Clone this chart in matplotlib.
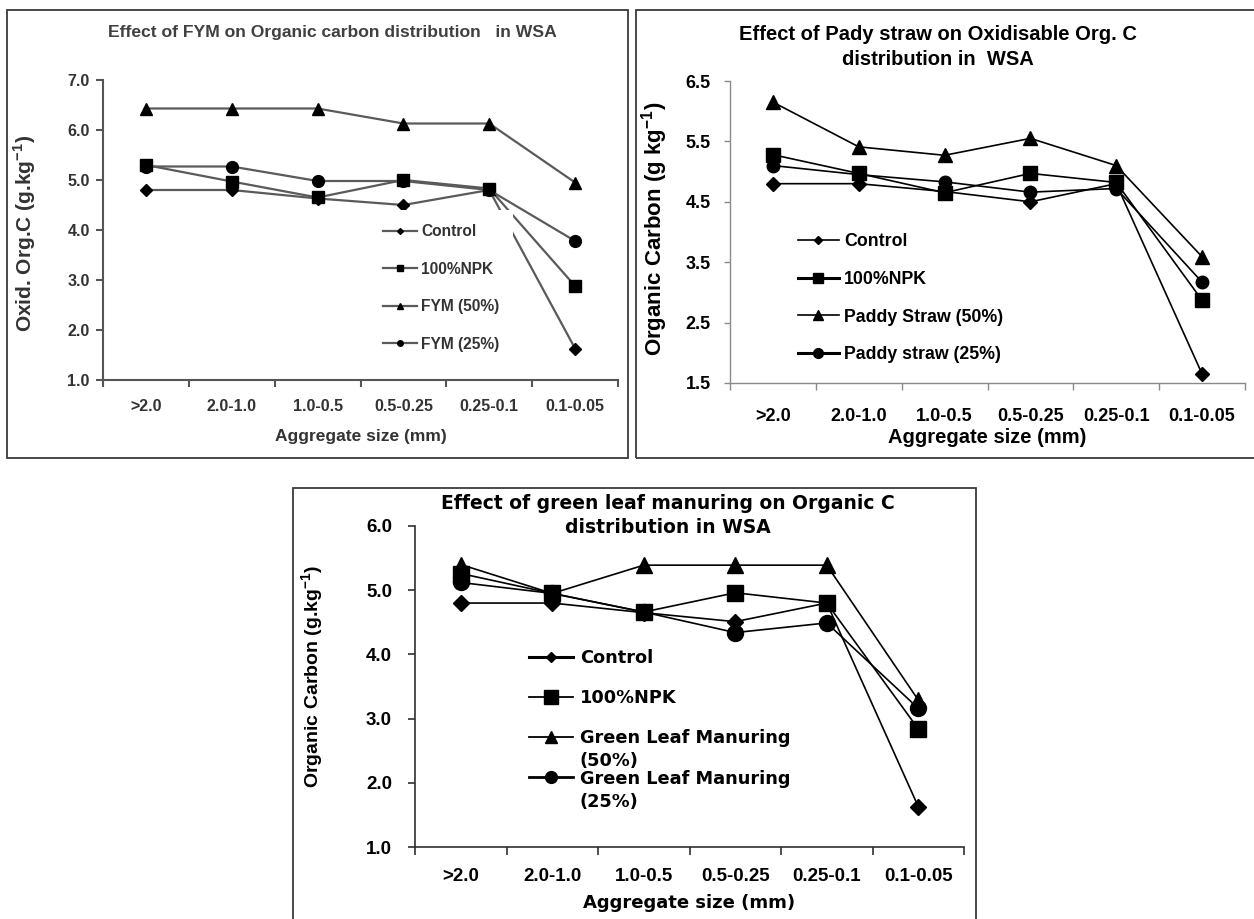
import numpy as np
import matplotlib
matplotlib.use("Agg")
import matplotlib.pyplot as plt
from matplotlib.lines import Line2D
from matplotlib.patches import Rectangle

plt.rcParams['mathtext.fontset'] = 'custom'
plt.rcParams['mathtext.rm'] = 'Liberation Sans'
plt.rcParams['mathtext.bf'] = 'Liberation Sans:bold'

# ---------------------------------------------------------------- data
sizes = ['>2.0', '2.0-1.0', '1.0-0.5', '0.5-0.25', '0.25-0.1', '0.1-0.05']

# FYM
fym_labels = ['Control', '100%NPK', 'FYM (50%)', 'FYM (25%)']
fym_control = [4.80, 4.80, 4.63, 4.50, 4.80, 1.63]
fym_npk = [5.30, 4.97, 4.65, 5.00, 4.83, 2.88]
fym_50 = [6.43, 6.43, 6.43, 6.13, 6.13, 4.95]
fym_25 = [5.27, 5.27, 4.98, 4.98, 4.80, 3.78]

# Paddy straw
pad_labels = ['Control', '100%NPK', 'Paddy Straw (50%)', 'Paddy straw (25%)']
pad_control = [4.80, 4.80, 4.67, 4.50, 4.80, 1.65]
pad_npk = [5.28, 4.97, 4.65, 4.97, 4.82, 2.87]
pad_50 = [6.15, 5.41, 5.27, 5.55, 5.10, 3.59]
pad_25 = [5.10, 4.95, 4.83, 4.66, 4.72, 3.17]

# Green leaf manuring
glm_labels = ['Control', '100%NPK', 'Green Leaf Manuring', 'Green Leaf Manuring']
glm_label_tails = ['(50%)', '(25%)']
glm_control = [4.80, 4.80, 4.65, 4.51, 4.80, 1.63]
glm_npk = [5.26, 4.95, 4.66, 4.96, 4.80, 2.84]
glm_50 = [5.40, 4.95, 5.39, 5.39, 5.39, 3.29]
glm_25 = [5.12, 4.95, 4.66, 4.34, 4.49, 3.16]

markers = ['D', 's', '^', 'o']

# ---------------------------------------------------------------- figure
W, H, DPI = 1254, 919, 100
fig = plt.figure(figsize=(W / DPI, H / DPI), dpi=DPI)
fig.patch.set_facecolor('white')

ARIAL = ['Liberation Sans', 'DejaVu Sans']
WIDE = ['DejaVu Sans']


def fx(px):
    return px / W


def fy(py):
    return 1 - py / H


def add_axes_px(x0, x1, ytop, ybot):
    return fig.add_axes([fx(x0), fy(ybot), (x1 - x0) / W, (ybot - ytop) / H])


def frame_px(x0, x1, ytop, ybot, color='#3a3a3a', lw=1.3):
    fig.add_artist(Rectangle((fx(x0), fy(ybot)), (x1 - x0) / W, (ybot - ytop) / H,
                             transform=fig.transFigure, fill=False,
                             edgecolor=color, linewidth=lw))


def setup_axes(ax, ylim, yticks, spine_color, spine_lw, tick_font, tick_size,
               tick_color, xpad, ypad, xtick_len, ytick_len):
    n = len(sizes)
    x = np.arange(n)
    ax.set_xlim(-0.5, n - 0.5)
    ax.set_ylim(*ylim)
    for s in ('top', 'right'):
        ax.spines[s].set_visible(False)
    for s in ('left', 'bottom'):
        ax.spines[s].set_color(spine_color)
        ax.spines[s].set_linewidth(spine_lw)
    ax.set_xticks(np.arange(n + 1) - 0.5)
    ax.set_xticklabels([])
    ax.set_xticks(x, minor=True)
    ax.set_xticklabels(sizes, minor=True)
    ax.tick_params(axis='x', which='major', direction='out', length=xtick_len,
                   width=spine_lw, color=spine_color)
    ax.tick_params(axis='x', which='minor', length=0, pad=xpad)
    ax.set_yticks(yticks)
    ax.set_yticklabels(['%.1f' % v for v in yticks])
    ax.tick_params(axis='y', direction='out', length=ytick_len, width=spine_lw,
                   color=spine_color, pad=ypad)
    for lab in ax.get_xticklabels(minor=True) + ax.get_yticklabels():
        lab.set_family(tick_font)
        lab.set_fontweight('bold')
        lab.set_fontsize(tick_size)
        lab.set_color(tick_color)
    ax.set_facecolor('none')
    return x


# ================================================================ panel 1
frame_px(7, 628, 10, 458)
ax1 = add_axes_px(103, 618, 80, 380)
x = setup_axes(ax1, (1.0, 7.0), np.arange(1.0, 7.01, 1.0), '#555555', 1.5,
               ARIAL, 11.5, '#333333', 14, 4.5, 5, 5)
line_c1 = '#5a5a5a'
fym_series = [fym_control, fym_npk, fym_50, fym_25]
fym_ms = [6.0, 8.5, 9.0, 8.5]
for vals, m, ms in zip(fym_series, markers, fym_ms):
    ax1.plot(x, vals, color=line_c1, lw=1.6, marker=m, ms=ms,
             mfc='black', mec='black', zorder=3)
h1 = [Line2D([], [], color=line_c1, lw=1.6, marker=m, ms=s, mfc='black', mec='black')
      for m, s in zip(markers, [3.0, 4.0, 4.0, 4.0])]
fs1 = 11.2
fs1_px = fs1 * DPI / 72
leg1 = ax1.legend(h1, fym_labels, loc='upper left',
                  bbox_to_anchor=(fx(383 - 0.9 * fs1_px), fy(210)),
                  bbox_transform=fig.transFigure, borderaxespad=0,
                  borderpad=0.9, handlelength=2.2, handletextpad=0.25,
                  labelspacing=1.45, frameon=True, fancybox=False,
                  facecolor='white', edgecolor='none', framealpha=1,
                  prop=dict(family=ARIAL, weight='bold', size=fs1))
for t in leg1.get_texts():
    t.set_color('#333333')
leg1.set_zorder(4)

ax1.set_xlabel('Aggregate size (mm)', family=ARIAL, weight='bold', size=12.5,
               color='#333333', va='center')
ax1.xaxis.set_label_coords(0.5, -0.187)
ax1.set_ylabel(r'Oxid. Org.C (g.kg$^{\mathbf{-1}}$)', family=ARIAL, weight='bold',
               size=15, color='#333333', va='center')
ax1.yaxis.set_label_coords(-0.1515, 0.49)
fig.text(fx(332), fy(32), 'Effect of FYM on Organic carbon distribution   in WSA',
         ha='center', va='center', family=ARIAL, weight='bold', size=12.6,
         color='#404040')

# ================================================================ panel 2
frame_px(636, 1258, 10, 458)
ax2 = add_axes_px(730, 1245, 81, 383)
x = setup_axes(ax2, (1.5, 6.5), np.arange(1.5, 6.51, 1.0), '#8a8a8a', 1.0,
               ARIAL, 13, 'black', 18, 10, 5, 4)
pad_series = [pad_control, pad_npk, pad_50, pad_25]
pad_ms = [7.0, 9.5, 10.5, 9.0]
for vals, m, ms in zip(pad_series, markers, pad_ms):
    ax2.plot(x, vals, color='black', lw=1.2, marker=m, ms=ms,
             mfc='black', mec='black', zorder=3)
h2 = [Line2D([], [], color='black', lw=lw, marker=m, ms=s, mfc='black', mec='black')
      for m, s, lw in zip(markers, [4.0, 6.5, 7.0, 7.0], [1.2, 2.2, 1.2, 2.2])]
fs2 = 12.8
fs2_px = fs2 * DPI / 72
leg2 = ax2.legend(h2, pad_labels, loc='upper left',
                  bbox_to_anchor=(fx(798 - 0.4 * fs2_px), fy(240 - 0.4 * fs2_px - 7)),
                  bbox_transform=fig.transFigure, borderaxespad=0,
                  borderpad=0.4, handlelength=2.3, handletextpad=0.3,
                  labelspacing=1.17, frameon=False,
                  prop=dict(family=ARIAL, weight='bold', size=fs2))

ax2.set_xlabel('Aggregate size (mm)', family=ARIAL, weight='bold', size=14.5,
               va='center')
ax2.xaxis.set_label_coords(0.5, -0.182)
ax2.set_ylabel(r'Organic Carbon (g kg$^{\mathbf{-1}}$)', family=ARIAL, weight='bold',
               size=16, va='center')
ax2.yaxis.set_label_coords(-0.146, 0.51)
fig.text(fx(938), fy(47), 'Effect of Pady straw on Oxidisable Org. C\ndistribution in  WSA',
         ha='center', va='center', family=ARIAL, weight='bold', size=14.5,
         linespacing=1.34)

# ================================================================ panel 3
frame_px(293, 976, 488, 930)
ax3 = add_axes_px(415, 964, 526, 847)
x = setup_axes(ax3, (1.0, 6.0), np.arange(1.0, 6.01, 1.0), '#303030', 1.2,
               ARIAL, 13.5, 'black', 15, 11.5, 6, 5)
glm_series = [glm_control, glm_npk, glm_50, glm_25]
glm_ms = [8.0, 11.5, 12.0, 11.5]
for vals, m, ms in zip(glm_series, markers, glm_ms):
    ax3.plot(x, vals, color='black', lw=1.2, marker=m, ms=ms,
             mfc='black', mec='black', zorder=3)
h3 = [Line2D([], [], color='black', lw=lw, marker=m, ms=s, mfc='black', mec='black')
      for m, s, lw in zip(markers, [5.5, 10.5, 8.5, 8.5], [2.2, 1.3, 1.3, 2.0])]
fs3 = 12.8
fs3_px = fs3 * DPI / 72
leg3 = ax3.legend(h3, glm_labels, loc='upper left',
                  bbox_to_anchor=(fx(529 - 0.4 * fs3_px), fy(657 - 0.4 * fs3_px - 8)),
                  bbox_transform=fig.transFigure, borderaxespad=0,
                  borderpad=0.4, handlelength=2.5, handletextpad=0.35,
                  labelspacing=1.25, frameon=False,
                  prop=dict(family=WIDE, weight='bold', size=fs3))
leg3.set_zorder(5)
for txt, tail in zip(leg3.get_texts()[2:], glm_label_tails):
    ax3.annotate(tail, xy=(0, 0.5), xycoords=txt, xytext=(0, -23 * 72 / DPI),
                 textcoords='offset points', ha='left', va='center',
                 family=WIDE, weight='bold', size=fs3, zorder=10)

ax3.set_xlabel('Aggregate size (mm)', family=WIDE, weight='bold', size=13,
               va='center')
ax3.xaxis.set_label_coords(0.5, -0.174)
ax3.set_ylabel(r'Organic Carbon (g.kg$^{\mathbf{-1}}$)', family=ARIAL, weight='bold',
               size=14, va='center')
ax3.yaxis.set_label_coords(-0.186, 0.53)
fig.text(fx(668), fy(515.5), 'Effect of green leaf manuring on Organic C\ndistribution in WSA',
         ha='center', va='center', family=WIDE, weight='bold', size=13.5,
         linespacing=1.33)

fig.savefig('out.png', dpi=DPI, facecolor='white')
